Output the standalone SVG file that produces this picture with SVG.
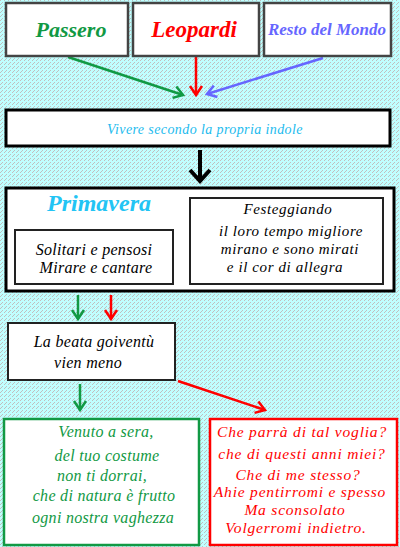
<svg xmlns="http://www.w3.org/2000/svg" width="400" height="547" viewBox="0 0 400 547">
<defs>
<pattern id="bg" width="4" height="4" patternUnits="userSpaceOnUse">
<rect width="4" height="4" fill="#c0ffff"/>
<rect x="0" y="0" width="1" height="1" fill="#c0c0c0"/>
<rect x="2" y="2" width="1" height="1" fill="#c0c0c0"/>
<rect x="1" y="3" width="1" height="1" fill="#c0c0c0"/>
</pattern>
<marker id="mG" markerUnits="userSpaceOnUse" markerWidth="20" markerHeight="20" viewBox="-12 -10 14 20" refX="0" refY="0" orient="auto"><path d="M-9,-6 L0,0 L-9,6" fill="none" stroke="#119944" stroke-width="2.5"/></marker>
<marker id="mR" markerUnits="userSpaceOnUse" markerWidth="20" markerHeight="20" viewBox="-12 -10 14 20" refX="0" refY="0" orient="auto"><path d="M-9,-6 L0,0 L-9,6" fill="none" stroke="#ff0000" stroke-width="2.5"/></marker>
<marker id="mB" markerUnits="userSpaceOnUse" markerWidth="20" markerHeight="20" viewBox="-12 -10 14 20" refX="0" refY="0" orient="auto"><path d="M-9,-6 L0,0 L-9,6" fill="none" stroke="#6666ff" stroke-width="2.5"/></marker>
<marker id="mK" markerUnits="userSpaceOnUse" markerWidth="30" markerHeight="30" viewBox="-15 -15 18 30" refX="0" refY="0" orient="auto"><path d="M-11,-10 L0,0 L-11,10" fill="none" stroke="#000" stroke-width="4"/></marker>
</defs>
<style>
.box{fill:#fff;stroke:#222;stroke-width:2}
.top{fill:#fff;stroke:#444;stroke-width:2.5}
.thick{fill:#fff;stroke:#000;stroke-width:3}
.t{font-family:"Liberation Serif",serif;font-style:italic;text-anchor:middle}
.h{font-weight:bold}
.k{fill:#000;font-size:16px;letter-spacing:0.3px}
.kf{fill:#000;font-size:15px;letter-spacing:0.6px}
.g{fill:#119944;font-size:16px;letter-spacing:0.3px}
.r{fill:#ff0000;font-size:15.5px;letter-spacing:0.8px}
.c{stroke-width:2.5;fill:none}
</style>
<rect width="400" height="547" fill="url(#bg)" shape-rendering="crispEdges"/>

<g id="connectors">
<path class="c" d="M68,57 L183,95" stroke="#119944" marker-end="url(#mG)"/>
<path class="c" d="M196,56 L196,95" stroke="#ff0000" marker-end="url(#mR)"/>
<path class="c" d="M323,58 L207,94" stroke="#6666ff" marker-end="url(#mB)"/>
<path d="M200,150 L200,181" stroke="#000" stroke-width="4" fill="none" marker-end="url(#mK)"/>
<path class="c" d="M153,212 L185,212" stroke="#6666ff" marker-end="url(#mB)"/>
<path class="c" d="M80,213 L80,227" stroke="#119944" marker-end="url(#mG)"/>
<path class="c" d="M111,213 L111,227" stroke="#ff0000" marker-end="url(#mR)"/>
<path class="c" d="M78,295 L78,319" stroke="#119944" marker-end="url(#mG)"/>
<path class="c" d="M111,295 L111,319" stroke="#ff0000" marker-end="url(#mR)"/>
<path class="c" d="M80,384 L80,410" stroke="#119944" marker-end="url(#mG)"/>
<path class="c" d="M178,381 L265,410" stroke="#ff0000" marker-end="url(#mR)"/>
</g>

<g id="passero">
<rect class="top" x="6" y="3" width="122" height="53"/>
<text class="t h" x="71" y="37" font-size="22" fill="#119944">Passero</text>
</g>
<g id="leopardi">
<rect class="top" x="133" y="3" width="126" height="53"/>
<text class="t h" x="194" y="37" font-size="23" fill="#ff0000">Leopardi</text>
</g>
<g id="resto">
<rect class="top" x="264" y="3" width="127" height="53"/>
<text class="t h" x="327" y="35" font-size="17" fill="#6666ff">Resto del Mondo</text>
</g>
<g id="vivere">
<rect class="thick" x="6" y="110" width="384" height="36"/>
<text class="t" x="205" y="134" font-size="14" fill="#22bbee" letter-spacing="0.4">Vivere secondo la propria indole</text>
</g>
<g id="primavera">
<rect class="thick" x="6" y="188" width="388" height="103"/>
<text class="t h" x="99" y="211" font-size="24" fill="#22c4f4">Primavera</text>
</g>
<g id="solitari">
<rect class="box" x="15" y="230" width="158" height="54"/>
<text class="t k" x="94" y="255">Solitari e pensosi</text>
<text class="t k" x="96" y="273">Mirare e cantare</text>
</g>
<g id="festeggiando">
<rect class="box" x="190" y="198" width="193" height="86"/>
<text class="t kf" x="288" y="214">Festeggiando</text>
<text class="t kf" x="291" y="236">il loro tempo migliore</text>
<text class="t kf" x="290" y="254">mirano e sono mirati</text>
<text class="t kf" x="285" y="272">e il cor di allegra</text>
</g>
<g id="beata">
<rect class="box" x="8" y="323" width="167" height="57"/>
<text class="t k" x="94" y="347">La beata goiventù</text>
<text class="t k" x="88" y="368">vien meno</text>
</g>
<g id="venuto">
<rect x="4" y="419" width="195" height="126" fill="#fff" stroke="#119944" stroke-width="2.5"/>
<text class="t g" x="106" y="437">Venuto a sera,</text>
<text class="t g" x="107" y="461">del tuo costume</text>
<text class="t g" x="102" y="481">non ti dorrai,</text>
<text class="t g" x="104" y="501">che di natura è frutto</text>
<text class="t g" x="103" y="523">ogni nostra vaghezza</text>
</g>
<g id="domande">
<rect x="210" y="419" width="187" height="126" fill="#fff" stroke="#ff0000" stroke-width="2.5"/>
<text class="t r" x="302" y="437">Che parrà di tal voglia?</text>
<text class="t r" x="302" y="459">che di questi anni miei?</text>
<text class="t r" x="298" y="480">Che di me stesso?</text>
<text class="t r" x="300" y="497">Ahie pentirromi e spesso</text>
<text class="t r" x="295" y="515">Ma sconsolato</text>
<text class="t r" x="296" y="533">Volgerromi indietro.</text>
</g>
</svg>
